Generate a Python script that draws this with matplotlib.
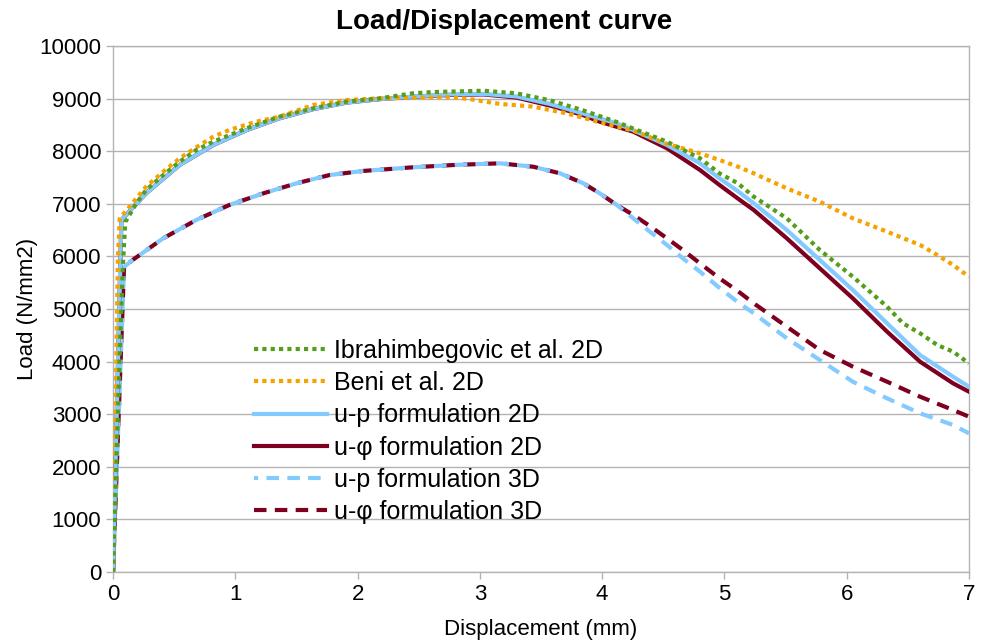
import matplotlib
matplotlib.use('Agg')
import matplotlib.pyplot as plt

plt.rcParams['font.family'] = ['Liberation Sans', 'DejaVu Sans']

# Ibrahimbegovic et al. 2D
ibr_x = [0, 0.02, 0.04, 0.06, 0.08, 0.1, 0.19, 0.27, 0.41, 0.545, 0.68, 0.82, 1.09, 1.36, 1.635, 1.91,
         2.18, 2.45, 2.62, 3.03, 3.3, 3.57, 3.84, 4.12, 4.255, 4.53, 4.8, 4.96, 5.11, 5.24, 5.51, 5.78,
         6.05, 6.33, 6.46, 6.6, 6.74, 6.87, 7.0]
ibr_y = [0, 1500, 3000, 4500, 5800, 6650, 7009, 7262, 7547, 7800, 8023, 8181, 8435, 8656, 8815, 8942,
         9005, 9100, 9125, 9150, 9100, 8970, 8780, 8555, 8430, 8181, 7865, 7579, 7390, 7135, 6724, 6122,
         5614, 5044, 4728, 4538, 4316, 4189, 3967]

# Beni et al. 2D
beni_x = [0, 0.01, 0.02, 0.03, 0.04, 0.055, 0.27, 0.41, 0.545, 0.68, 0.82, 0.95, 1.17, 1.36, 1.635,
          1.91, 2.18, 2.45, 2.76, 2.92, 3.16, 3.43, 3.71, 3.98, 4.255, 4.53, 4.8, 4.96, 5.11, 5.24, 5.51,
          5.78, 6.05, 6.19, 6.33, 6.6, 6.74, 6.87, 7.0]
beni_y = [0, 1500, 3000, 4500, 6000, 6724, 7325, 7610, 7865, 8074, 8276, 8403, 8561, 8656, 8878,
          8973, 9005, 9017, 9030, 8990, 8900, 8850, 8720, 8550, 8390, 8140, 7960, 7833, 7706, 7579, 7294,
          7040, 6724, 6597, 6470, 6217, 6027, 5837, 5614]

# u-p formulation 2D
up2_x = [0, 0.068, 0.27, 0.545, 0.82, 1.09, 1.36, 1.635, 1.91, 2.18, 2.45, 2.75, 3.03, 3.3, 3.57,
         3.84, 4.12, 4.255, 4.53, 4.8, 4.96, 5.11, 5.24, 5.51, 5.78, 6.05, 6.33, 6.6, 6.87, 7.0]
up2_y = [0, 6692, 7200, 7740, 8118, 8400, 8625, 8800, 8925, 8990, 9040, 9080, 9090, 9040, 8900,
         8720, 8530, 8400, 8118, 7770, 7484, 7240, 7009, 6502, 5932, 5361, 4728, 4125, 3713, 3523]

# u-phi formulation 2D
uf2_x = [0, 0.068, 0.27, 0.545, 0.82, 1.09, 1.36, 1.635, 1.91, 2.18, 2.45, 2.75, 3.03, 3.3, 3.57,
         3.84, 3.98, 4.255, 4.53, 4.8, 4.96, 5.11, 5.24, 5.51, 5.78, 6.05, 6.33, 6.6, 6.87, 7.0]
uf2_y = [0, 6692, 7200, 7740, 8118, 8400, 8625, 8800, 8925, 8990, 9035, 9070, 9080, 9020, 8870,
         8690, 8561, 8371, 8055, 7643, 7357, 7100, 6882, 6344, 5773, 5203, 4569, 3998, 3587, 3428]

# u-p formulation 3D
up3_x = [0, 0.09, 0.16, 0.41, 0.68, 0.95, 1.23, 1.5, 1.77, 2.04, 2.45, 2.8, 3.165, 3.437, 3.655,
         3.846, 3.98, 4.12, 4.255, 4.39, 4.53, 4.66, 4.8, 4.95, 5.11, 5.24, 5.51, 5.78, 6.05, 6.33,
         6.6, 6.87, 7.0]
up3_y = [0, 5800, 5932, 6344, 6692, 6977, 7200, 7390, 7547, 7624, 7694, 7740, 7770, 7705, 7580,
         7390, 7200, 6977, 6724, 6470, 6217, 5963, 5710, 5420, 5130, 4918, 4443, 4030, 3618, 3302,
         3017, 2795, 2636]

# u-phi formulation 3D
uf3_x = [0, 0.09, 0.16, 0.41, 0.68, 0.95, 1.23, 1.5, 1.77, 2.04, 2.45, 2.8, 3.165, 3.437, 3.655,
         3.846, 3.98, 4.12, 4.255, 4.39, 4.53, 4.66, 4.8, 4.96, 5.11, 5.24, 5.51, 5.78, 6.05, 6.33,
         6.6, 6.87, 7.0]
uf3_y = [0, 5800, 5932, 6344, 6692, 6977, 7200, 7390, 7547, 7624, 7694, 7740, 7770, 7705, 7580,
         7390, 7200, 6977, 6787, 6578, 6344, 6122, 5868, 5583, 5340, 5108, 4664, 4221, 3904, 3618,
         3333, 3080, 2953]

green = '#579D1C'
orange = '#F5A300'
lblue = '#83CAFF'
dred = '#7E0021'
grid_c = '#B3B3B3'

fig = plt.figure(figsize=(9.89, 6.42), dpi=100)
ax = fig.add_axes([0.1143, 0.109, 0.8655, 0.8193])

l5, = ax.plot(uf3_x, uf3_y, color=dred, lw=3, ls=(0, (3, 2)), label='u-φ formulation 3D', zorder=2)
l4, = ax.plot(up3_x, up3_y, color=lblue, lw=3, ls=(2, (3, 2)), label='u-p formulation 3D', zorder=3)
l3, = ax.plot(uf2_x, uf2_y, color=dred, lw=3, label='u-φ formulation 2D', zorder=4)
l2, = ax.plot(up2_x, up2_y, color=lblue, lw=3, label='u-p formulation 2D', zorder=5)
l1, = ax.plot(beni_x, beni_y, color=orange, lw=3, ls=(0, (1, 1)), label='Beni et al. 2D', zorder=6)
l0, = ax.plot(ibr_x, ibr_y, color=green, lw=3, ls=(0, (1, 1)), label='Ibrahimbegovic et al. 2D', zorder=7)

ax.set_xlim(0, 7)
ax.set_ylim(0, 10000)
ax.set_xticks(range(0, 8))
ax.set_yticks(range(0, 10001, 1000))
ax.yaxis.grid(True, color=grid_c, lw=1)
ax.set_axisbelow(True)
for s in ax.spines.values():
    s.set_color(grid_c)
    s.set_linewidth(1)
ax.tick_params(colors=grid_c, labelcolor='black', labelsize=16, length=5, width=1)

ax.set_xlabel('Displacement (mm)', fontsize=16, labelpad=10)
ax.set_ylabel('Load (N/mm2)', fontsize=16, labelpad=1)
fig.text(0.51, 0.966, 'Load/Displacement curve', fontsize=20, fontweight='bold',
         ha='center', va='center')

ax.legend(handles=[l0, l1, l2, l3, l4, l5], loc='center left', bbox_to_anchor=(0.165, 0.267),
          frameon=False, fontsize=18, handlelength=2.9, handletextpad=0.3,
          labelspacing=0.33, borderpad=0, borderaxespad=0)

fig.savefig('out.png', dpi=100)
